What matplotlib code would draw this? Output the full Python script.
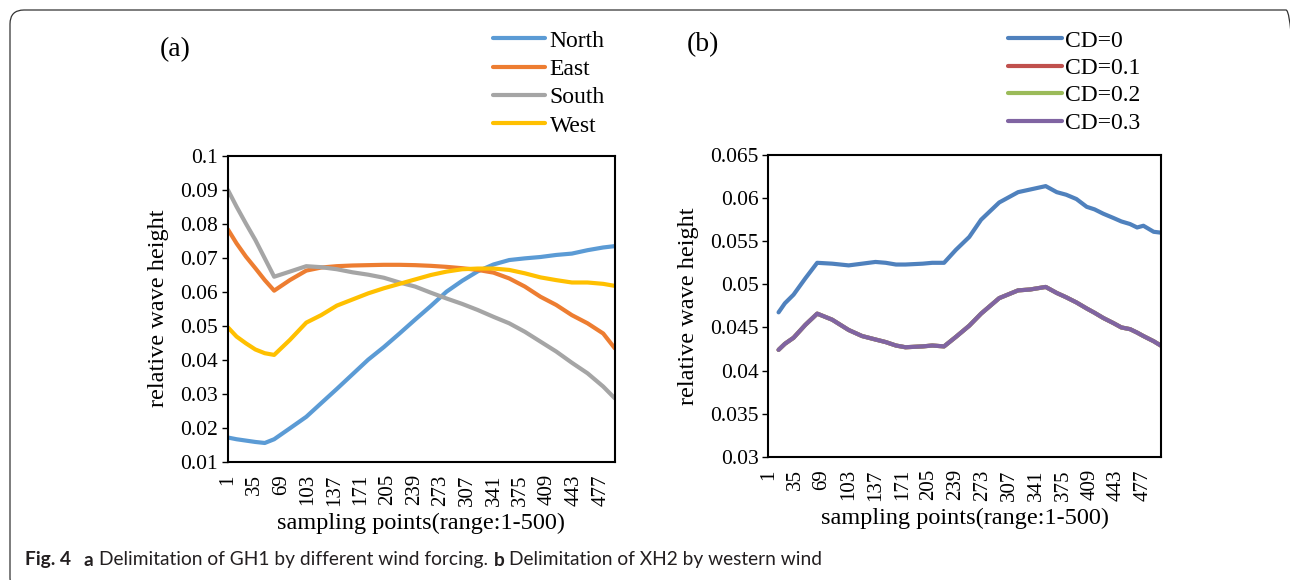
import numpy as np
import matplotlib
matplotlib.use("Agg")
import matplotlib.pyplot as plt
from matplotlib.patches import FancyBboxPatch
from matplotlib.transforms import IdentityTransform

plt.rcParams['font.family'] = ['Liberation Serif', 'DejaVu Serif']

# ---- panel (a): wind direction ----
xA = [1, 12, 24, 36, 48, 60, 80, 101, 120, 140, 160, 180, 200, 220, 240,
      260, 280, 300, 320, 340, 360, 380, 400, 420, 440, 460, 480, 495]
north = [0.0171, 0.0166, 0.0162, 0.0158, 0.0155, 0.0166, 0.0198, 0.0232,
         0.0272, 0.0314, 0.0357, 0.0400, 0.0437, 0.0477, 0.0518, 0.0558,
         0.0600, 0.0632, 0.0660, 0.0680, 0.0693, 0.0698, 0.0702, 0.0708,
         0.0712, 0.0722, 0.0730, 0.0734]
east = [0.0783, 0.0742, 0.0703, 0.0669, 0.0634, 0.0603, 0.0634, 0.0662,
        0.0671, 0.0675, 0.0677, 0.0678, 0.0679, 0.0679, 0.0678, 0.0676,
        0.0673, 0.0669, 0.0664, 0.0656, 0.0639, 0.0615, 0.0585, 0.0561,
        0.0531, 0.0507, 0.0477, 0.0433]
south = [0.0899, 0.0850, 0.0800, 0.0752, 0.0698, 0.0644, 0.0659, 0.0675,
         0.0672, 0.0666, 0.0657, 0.0650, 0.0641, 0.0627, 0.0615, 0.0597,
         0.0580, 0.0564, 0.0546, 0.0526, 0.0507, 0.0482, 0.0453, 0.0424,
         0.0391, 0.0360, 0.0321, 0.0286]
west = [0.0495, 0.0468, 0.0448, 0.0430, 0.0419, 0.0414, 0.0458, 0.0509,
        0.0531, 0.0559, 0.0577, 0.0595, 0.0610, 0.0623, 0.0636, 0.0649,
        0.0659, 0.0666, 0.0668, 0.0668, 0.0664, 0.0654, 0.0642, 0.0634,
        0.0627, 0.0627, 0.0623, 0.0617]

# ---- panel (b): CD values ----
xB = [14, 22, 33, 48, 63, 82, 103, 120, 137, 150, 163, 175, 197, 209, 224,
      239, 256, 271, 294, 318, 333, 353, 367, 379, 392, 405, 415, 426, 439,
      449, 460, 469, 477, 490, 499]
cd0 = [0.04675, 0.0478, 0.0488, 0.0507, 0.0525, 0.0524, 0.0522, 0.0524,
       0.0526, 0.0525, 0.0523, 0.0523, 0.0524, 0.0525, 0.0525, 0.0540,
       0.0555, 0.0575, 0.0595, 0.0607, 0.0610, 0.0614, 0.0607, 0.0604,
       0.0599, 0.0590, 0.0587, 0.0582, 0.0577, 0.0573, 0.0570, 0.0566,
       0.0568, 0.0561, 0.0560]
cd3 = [0.0424, 0.0431, 0.0438, 0.0453, 0.0466, 0.0459, 0.0447, 0.0440,
       0.0436, 0.0433, 0.0429, 0.0427, 0.0428, 0.0429, 0.0428, 0.0439,
       0.0452, 0.0466, 0.0484, 0.0493, 0.0494, 0.0497, 0.0490, 0.0485,
       0.0479, 0.0472, 0.0467, 0.0461, 0.0455, 0.0450, 0.0448, 0.0444,
       0.0440, 0.0434, 0.0429]
cd1 = cd3  # hidden under CD=0.3 in the original
cd2 = cd3

xticksAB = list(range(1, 478, 34))

fig = plt.figure(figsize=(12.9, 5.8), dpi=100)

# outer rounded frame (right and bottom edges run off the picture)
frame = FancyBboxPatch((10, -12), 1290, 582, boxstyle="round,pad=0,rounding_size=14",
                       transform=IdentityTransform(), fill=False, ec='#333333', lw=0.9)
fig.patches.append(frame)

xtickfs = 15
ytickfs = 15.5
labfs = 17.5

def style_axes(ax):
	for sp in ax.spines.values():
		sp.set_linewidth(1.5)
		sp.set_color('black')
	ax.set_xticks(xticksAB)
	ax.set_xticklabels([str(t) for t in xticksAB], rotation=90, fontsize=xtickfs)
	ax.tick_params(axis='x', length=0, pad=9)
	ax.tick_params(axis='y', length=4, width=1, direction='out', labelsize=ytickfs, pad=3)
	ax.set_xlabel("sampling points(range:1-500)", fontsize=labfs, labelpad=5)
	ax.set_ylabel("relative wave height", fontsize=labfs, labelpad=8)

# (a)
axA = fig.add_axes([0.1767, 0.2040, 0.300, 0.5276])
axA.plot(xA, north, color='#5B9BD5', lw=3, label='North', solid_capstyle='round')
axA.plot(xA, east, color='#ED7D31', lw=3, label='East', solid_capstyle='round')
axA.plot(xA, south, color='#A5A5A5', lw=3, label='South', solid_capstyle='round')
axA.plot(xA, west, color='#FFC000', lw=3, label='West', solid_capstyle='round')
axA.set_xlim(1, 495)
axA.set_ylim(0.01, 0.1)
yA = [0.01, 0.02, 0.03, 0.04, 0.05, 0.06, 0.07, 0.08, 0.09, 0.1]
axA.set_yticks(yA)
axA.set_yticklabels(['%g' % v for v in yA])
style_axes(axA)
fig.legend(*axA.get_legend_handles_labels(), loc='upper left',
           bbox_to_anchor=(493/1290, 1 - 30/580), frameon=False, fontsize=17,
           handlelength=2.2, handletextpad=0.2, labelspacing=0.29,
           borderpad=0, borderaxespad=0)
fig.text(175/1290, 1 - 50/580, "(a)", fontsize=20, ha='center', va='center')

# (b)
axB = fig.add_axes([0.5956, 0.2126, 0.3042, 0.520])
axB.plot(xB, cd0, color='#4F81BD', lw=3, label='CD=0', solid_capstyle='round')
axB.plot(xB, cd1, color='#C0504D', lw=3, label='CD=0.1', solid_capstyle='round')
axB.plot(xB, cd2, color='#9BBB59', lw=3, label='CD=0.2', solid_capstyle='round')
axB.plot(xB, cd3, color='#8064A2', lw=3, label='CD=0.3', solid_capstyle='round')
axB.set_xlim(1, 499)
axB.set_ylim(0.03, 0.065)
yB = [0.03, 0.035, 0.04, 0.045, 0.05, 0.055, 0.06, 0.065]
axB.set_yticks(yB)
axB.set_yticklabels(['%g' % v for v in yB])
style_axes(axB)
fig.legend(*axB.get_legend_handles_labels(), loc='upper left',
           bbox_to_anchor=(1008/1290, 1 - 30/580), frameon=False, fontsize=17,
           handlelength=2.3, handletextpad=0.1, labelspacing=0.25,
           borderpad=0, borderaxespad=0)
fig.text(703/1290, 1 - 45/580, "(b)", fontsize=20, ha='center', va='center')

# caption, pieces chained left to right; font size fitted to reference width
capfam = ['Lato', 'DejaVu Sans']
pieces = [("Fig. 4", 'bold', 13), ("a", 'bold', 5), ("Delimitation of GH1 by different wind forcing.", 'normal', 6),
          ("b", 'bold', 5), ("Delimitation of XH2 by western wind", 'normal', 0)]
fig.canvas.draw()
r = fig.canvas.get_renderer()

def put_caption(fs):
	made = []
	xpos = 25
	for txt, wt, gap in pieces:
		t = fig.text(xpos / 1290, 1 - 560 / 580, txt, fontsize=fs, fontweight=wt,
		             family=capfam, ha='left', va='center', color='#231f20')
		made.append(t)
		xpos = t.get_window_extent(renderer=r).x1 + gap
	return made, xpos

capfs = 13
made, endx = put_caption(capfs)
for t in made:
	t.remove()
capfs = capfs * (823 - 25 - 29) / (endx - 25 - 29)
put_caption(capfs)

fig.savefig("out.png", dpi=100)
